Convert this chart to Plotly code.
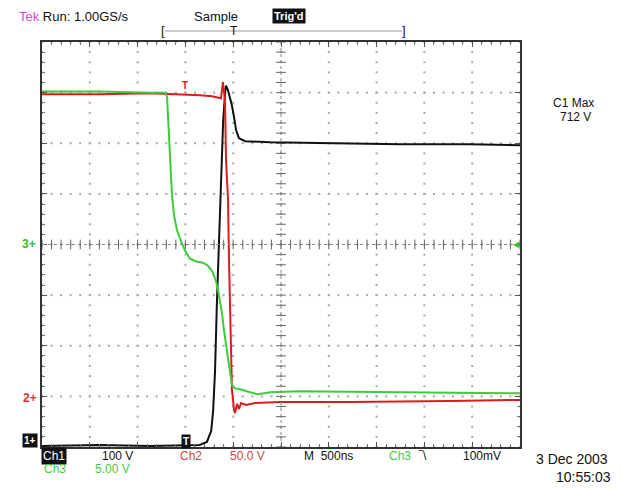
import numpy as np
import plotly.graph_objects as go

# ---------------- data (time in ns relative to trigger, volts) ----------------
ch1_t = [-2000, -1400, -870, -350, -275, -230, -210, -190, -170, -150, -130, -105, -85, -75,
         -55, -35, -15, 10, 30, 60, 125, 385, 910, 1745, 2475, 3000]
ch1_v = [0, 2, 0, 2, 8, 30, 69, 148, 286, 405, 523, 642, 697, 712,
         703, 689, 674, 648, 624, 608, 602, 600, 598, 596, 596, 594]

ch2_t = [-2000, -1393, -870, -504, -347, -222, -159, -128, -107, -96, -86, -75, -54, -44, -33,
         -23, -13, -2, 8, 19, 40, 61, 82, 134, 228, 490, 1222, 2268, 3000]
ch2_v = [300, 300, 301, 300, 299, 298, 297, 296, 312, 304, 294, 235, 196, 136, 77,
         38, 8, -2, -12, -15, -6, -11, -5, -7, -5, -4, -4, -3, -2]

ch3_t = [-2000, -1393, -870, -713, -692, -682, -672, -661, -651, -640, -619, -588, -536, -504,
         -452, -379, -316, -264, -222, -180, -159, -138, -117, -96, -75, -54, -33, -13, 19, 71,
         176, 259, 385, 699, 1745, 3000]
ch3_v = [15.1, 15.1, 15.0, 15.0, 14.6, 12.7, 10.8, 8.8, 6.8, 4.8, 2.9, 1.4, 0.1, -0.6,
         -1.4, -1.7, -1.8, -2.1, -2.6, -3.6, -4.5, -5.5, -6.8, -8.5, -10.0, -11.5, -12.9, -13.9,
         -14.2, -14.3, -14.6, -14.8, -14.6, -14.5, -14.6, -14.7]

volts_per_div = {"ch1": 100, "ch2": 50, "ch3": 5}
position_div = {"ch1": -3.98, "ch2": -3.03, "ch3": 0.0}
ns_per_div = 500
t_left = -2000

# ---------------- geometry ----------------
W, H = 621, 490
L, R, T, B = 42, 520, 42, 447
t_range = [t_left, t_left + 10 * ns_per_div]
t_center = t_left + 5 * ns_per_div


def X(px):
    return (px - L) / (R - L)


def Y(py):
    return (B - py) / (B - T)


fig = go.Figure()

# graticule dots
gx, gy = [], []
minor_t = np.arange(t_range[0], t_range[1] + 1, ns_per_div / 5)
minor_d = np.arange(-4, 4.001, 0.2)
for d in range(-4, 5):
    gx += list(minor_t)
    gy += [d] * len(minor_t)
for k in range(11):
    gx += [t_left + k * ns_per_div] * len(minor_d)
    gy += list(minor_d)
fig.add_trace(go.Scatter(x=gx, y=gy, mode="markers", yaxis="y",
                         marker=dict(size=2, color="#a8a8a8", symbol="square"),
                         hoverinfo="skip", showlegend=False))
# center cross ticks
fig.add_trace(go.Scatter(x=minor_t, y=[0] * len(minor_t), mode="markers", yaxis="y",
                         marker=dict(size=7, symbol="line-ns", line=dict(width=1, color="#666")),
                         hoverinfo="skip", showlegend=False))
fig.add_trace(go.Scatter(x=[t_center] * len(minor_d), y=minor_d, mode="markers", yaxis="y",
                         marker=dict(size=7, symbol="line-ew", line=dict(width=1, color="#666")),
                         hoverinfo="skip", showlegend=False))

# channels
fig.add_trace(go.Scatter(x=ch3_t, y=ch3_v, mode="lines", yaxis="y4",
                         line=dict(color="#3ccc3c", width=2), showlegend=False))
fig.add_trace(go.Scatter(x=ch2_t, y=ch2_v, mode="lines", yaxis="y3",
                         line=dict(color="#dc1c1c", width=2), showlegend=False))
fig.add_trace(go.Scatter(x=ch1_t, y=ch1_v, mode="lines", yaxis="y2",
                         line=dict(color="#111111", width=2), showlegend=False))


def ch_range(ch):
    s, p = volts_per_div[ch], position_div[ch]
    return [(-4 - p) * s, (4 - p) * s]


hidden = dict(visible=False, overlaying="y", fixedrange=True)

F = "Liberation Sans"
ann = []


def txt(px, py, s, color="#111", size=12, bg=None, xanchor="center", bold=False):
    ann.append(dict(x=X(px), y=Y(py), xref="paper", yref="paper", text=("<b>%s</b>" % s) if bold else s,
                    showarrow=False, xanchor=xanchor, yanchor="middle",
                    font=dict(family=F, size=size, color=color),
                    bgcolor=bg, borderpad=1 if bg else 0))


txt(18, 17, "<span style='color:#e040d0'>Tek</span> Run: 1.00GS/s", size=13, xanchor="left")
txt(193, 17, "Sample", size=13, xanchor="left")
txt(289, 16, "Trig'd", color="#ffffff", size=11, bg="#111111", bold=True)
txt(163, 31, "[", size=13)
txt(404, 31, "]", size=13)
txt(234, 31, "T", size=12)
txt(573, 103, "C1 Max", size=12)
txt(575, 117, "712 V", size=12)
txt(29, 244, "3+", color="#33bb33", size=12, bold=True)
txt(30, 398, "2+", color="#cc3333", size=12, bold=True)
txt(30, 440, "1+", color="#ffffff", size=10, bg="#111111", bold=True)
txt(186, 441, "T", color="#ffffff", size=10, bg="#111111", bold=True)
txt(185, 85, "T", color="#dd2222", size=10, bold=True)
txt(516, 244, "◀", color="#33bb33", size=8)
txt(54, 456, "Ch1", color="#ffffff", size=12, bg="#111111")
txt(117, 456, "100 V", size=12)
txt(191, 456, "Ch2", color="#e04040", size=12)
txt(247, 456, "50.0 V", color="#e04040", size=12)
txt(328, 456, "M  500ns", size=12)
txt(400, 456, "Ch3", color="#44cc44", size=12)
txt(422, 456, "‾\\", size=12)
txt(482, 456, "100mV", size=12)
txt(55, 469, "Ch3", color="#44cc44", size=12)
txt(112, 469, "5.00 V", color="#44cc44", size=12)
txt(572, 459, "3 Dec 2003", size=14)
txt(583, 477, "10:55:03", size=14)

shapes = [
    dict(type="line", xref="paper", yref="paper", x0=X(165), x1=X(402), y0=Y(31), y1=Y(31),
         line=dict(color="#999", width=1)),
    dict(type="line", xref="x", yref="y", x0=t_range[0], x1=t_range[1], y0=0, y1=0,
         line=dict(color="#888", width=1, dash="dot")),
    dict(type="line", xref="x", yref="y", x0=t_center, x1=t_center, y0=-4, y1=4,
         line=dict(color="#888", width=1, dash="dot")),
]

fig.update_layout(
    width=W, height=H,
    margin=dict(l=L, r=W - R, t=T, b=H - B, pad=0),
    paper_bgcolor="white", plot_bgcolor="white",
    showlegend=False, hovermode=False,
    xaxis=dict(range=t_range, showgrid=False, zeroline=False, showticklabels=False,
               showline=True, linecolor="#333", linewidth=1.5, mirror="ticks",
               ticks="inside", dtick=ns_per_div, tick0=t_left, ticklen=5, tickcolor="#555",
               minor=dict(dtick=ns_per_div / 5, ticklen=3, ticks="inside", tickcolor="#777"),
               fixedrange=True),
    yaxis=dict(range=[-4, 4], showgrid=False, zeroline=False, showticklabels=False,
               showline=True, linecolor="#333", linewidth=1.5, mirror="ticks",
               ticks="inside", dtick=1, ticklen=5, tickcolor="#555",
               minor=dict(dtick=0.2, ticklen=3, ticks="inside", tickcolor="#777"),
               fixedrange=True),
    yaxis2=dict(range=ch_range("ch1"), **hidden),
    yaxis3=dict(range=ch_range("ch2"), **hidden),
    yaxis4=dict(range=ch_range("ch3"), **hidden),
    annotations=ann,
    shapes=shapes,
)

fig.write_html("out.html")
